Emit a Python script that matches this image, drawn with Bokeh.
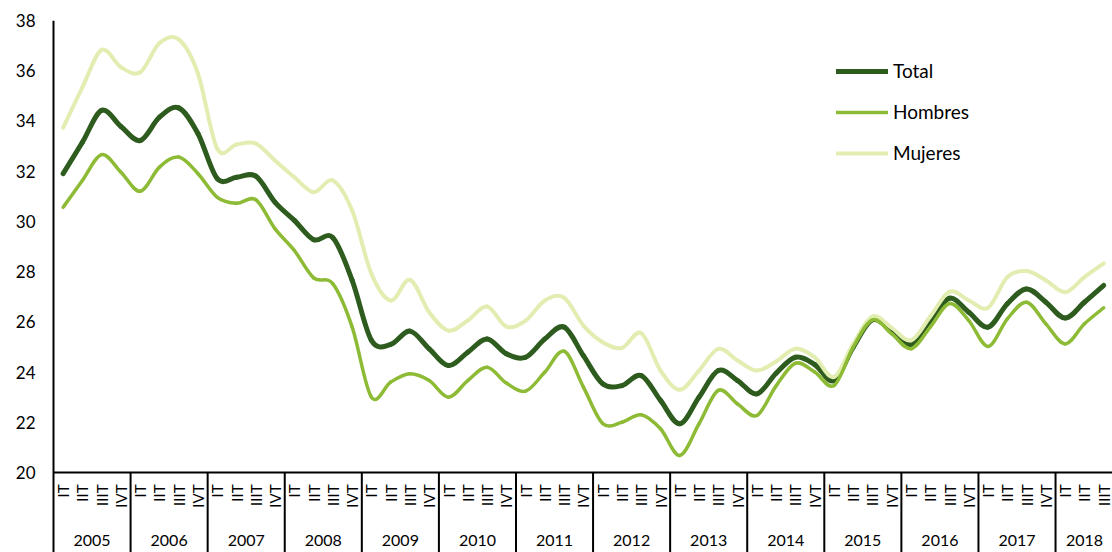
import numpy as np
from bokeh.plotting import figure
from bokeh.models import FixedTicker, Legend, LegendItem, Range1d
from bokeh.core.properties import value
from bokeh.embed import file_html
from bokeh.resources import INLINE

# ---------------- data ----------------
years = [str(y) for y in range(2005, 2019)]
quarters = ["IT", "IIT", "IIIT", "IVT"]

total = [31.9, 33.15, 34.42, 33.78, 33.22, 34.15, 34.52, 33.49, 31.7, 31.76,
         31.8, 30.76, 30.04, 29.27, 29.35, 27.65, 25.26, 25.1, 25.63,
         24.92, 24.26, 24.79, 25.32, 24.73, 24.59, 25.32, 25.79, 24.65,
         23.53, 23.46, 23.86, 22.87, 21.94, 23.0, 24.06, 23.66, 23.13, 23.95,
         24.59, 24.3, 23.66, 24.99, 26.08, 25.65, 25.1, 26.05, 26.94,
         26.38, 25.79, 26.72, 27.31, 26.78, 26.15, 26.78, 27.45]

hombres = [30.56, 31.63, 32.66, 31.96, 31.2, 32.16, 32.56, 31.9, 30.96, 30.72,
           30.86, 29.7, 28.84, 27.75, 27.51, 25.79, 23.0, 23.6, 23.93,
           23.66, 23.0, 23.66, 24.19, 23.56, 23.24, 24.0, 24.83, 23.4,
           21.95, 22.0, 22.3, 21.74, 20.68, 21.94, 23.27, 22.73, 22.27, 23.45,
           24.35, 24.0, 23.46, 24.99, 26.08, 25.52, 24.93, 25.79, 26.73,
           26.05, 25.02, 26.12, 26.78, 25.92, 25.12, 25.92, 26.56]

mujeres = [33.73, 35.34, 36.83, 36.14, 35.94, 37.1, 37.25, 35.88, 32.89, 33.06,
           33.1, 32.42, 31.76, 31.16, 31.63, 30.43, 27.91, 26.85, 27.67,
           26.38, 25.65, 26.05, 26.61, 25.81, 26.05, 26.85, 26.96, 25.85,
           25.19, 24.96, 25.55, 24.06, 23.29, 24.06, 24.92, 24.46, 24.06, 24.42,
           24.93, 24.59, 23.8, 25.12, 26.21, 25.76, 25.26, 26.21, 27.2,
           26.85, 26.56, 27.78, 28.02, 27.65, 27.18, 27.78, 28.33]

y_ticks = list(range(20, 39, 2))

# ---------------- layout ----------------
n = len(total)
q_labels = [quarters[i % 4] for i in range(n)]
xs = np.arange(n) + 0.5

W, H = 1112, 552
LEFT, TOP = 50, 20
PX_Q = 19.27
PX_V = 25.11
x_start = -3.0 / PX_Q
x_end = x_start + (W - LEFT) / PX_Q
y_top = y_ticks[-1]
y_base = y_ticks[0]
y_start = y_top - (H - TOP) / PX_V

FONT = "Lato"

p = figure(width=W, height=H, output_backend="svg", toolbar_location=None,
           x_range=Range1d(x_start, x_end), y_range=Range1d(y_start, y_top),
           min_border_left=LEFT, min_border_right=0, min_border_top=TOP,
           min_border_bottom=0, x_axis_type=None)
p.outline_line_color = None
p.grid.visible = False
p.background_fill_color = "white"
p.border_fill_color = "white"

ax = p.yaxis[0]
ax.ticker = FixedTicker(ticks=y_ticks)
ax.axis_line_color = None
ax.major_tick_line_color = None
ax.minor_tick_line_color = None
ax.major_tick_out = 0
ax.major_tick_in = 0
ax.major_label_standoff = 15
ax.major_label_text_font = FONT
ax.major_label_text_font_size = "17px"
ax.major_label_text_color = "black"


def bezier_parts(x, y):
    x = np.asarray(x, float)
    y = np.asarray(y, float)
    xp = np.concatenate([[x[0]], x, [x[-1]]])
    yp = np.concatenate([[y[0]], y, [y[-1]]])
    x0, y0, x1, y1 = x[:-1], y[:-1], x[1:], y[1:]
    cx0 = x0 + (xp[2:-1] - xp[:-3]) / 6.0
    cy0 = y0 + (yp[2:-1] - yp[:-3]) / 6.0
    cx1 = x1 - (xp[3:] - xp[1:-2]) / 6.0
    cy1 = y1 - (yp[3:] - yp[1:-2]) / 6.0
    return dict(x0=x0, y0=y0, x1=x1, y1=y1, cx0=cx0, cy0=cy0, cx1=cx1, cy1=cy1)


series = {
    "Total": (total, "#2e5b1e", 5.0),
    "Hombres": (hombres, "#8dbb35", 3.5),
    "Mujeres": (mujeres, "#e2edb1", 4.0),
}
renderers = {}
for name in ["Total", "Mujeres", "Hombres"]:
    vals, col, lw = series[name]
    b = bezier_parts(xs, vals)
    renderers[name] = p.bezier(line_color=col, line_width=lw, line_cap="round", **b)

# axis lines and separators
sep_x = [4 * k for k in range(len(years))]
p.segment(x0=[0], y0=[y_start], x1=[0], y1=[y_top], line_color="black", line_width=2)
p.segment(x0=[0], y0=[y_base], x1=[x_end], y1=[y_base], line_color="black", line_width=2)
p.segment(x0=sep_x[1:], y0=[y_base] * (len(sep_x) - 1), x1=sep_x[1:],
          y1=[y_start] * (len(sep_x) - 1), line_color="black", line_width=2)

# quarter labels
p.text(x=xs, y=[y_base] * n, text=q_labels, angle=np.pi / 2, text_align="right",
       text_baseline="middle", y_offset=12, text_font=value(FONT),
       text_font_size="15px", text_color="black")

# year labels
year_x = [(4 * k + min(4 * k + 4, n)) / 2.0 for k in range(len(years))]
p.text(x=year_x, y=[y_base] * len(years), text=years, text_align="center",
       text_baseline="middle", y_offset=68, text_font=value(FONT),
       text_font_size="16px", text_color="black")

legend = Legend(items=[LegendItem(label=k, renderers=[renderers[k]]) for k in ["Total", "Hombres", "Mujeres"]],
                location=(786, 388), glyph_width=52, glyph_height=20, label_height=20,
                spacing=18, padding=10, label_standoff=5,
                label_text_font=FONT, label_text_font_size="19px", label_text_color="black",
                border_line_color=None, background_fill_alpha=0)
p.add_layout(legend)

open("out.html", "w").write(file_html(p, INLINE))
